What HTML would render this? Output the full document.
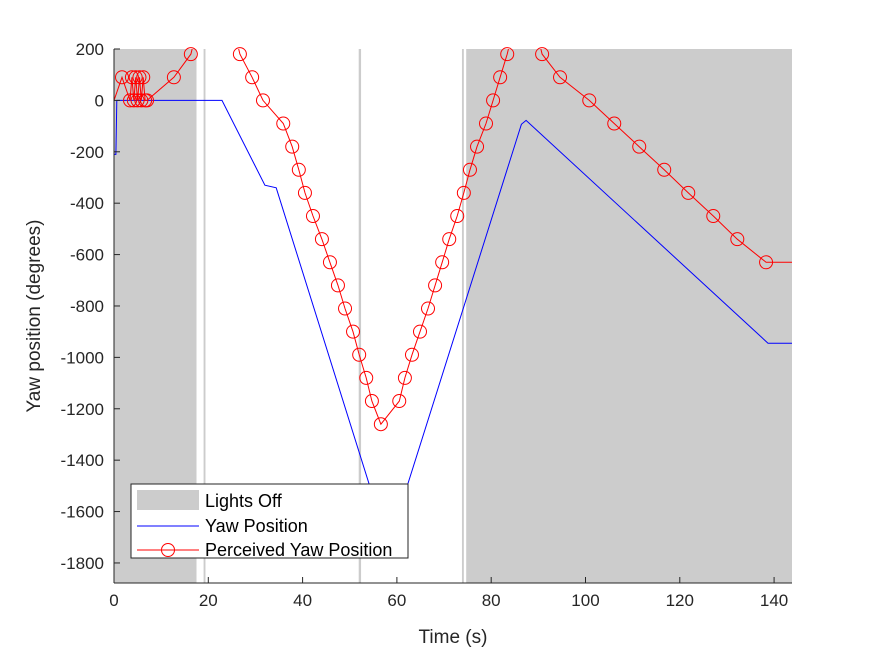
<!DOCTYPE html>
<html><head><meta charset="utf-8"><style>
body{margin:0;background:#fff;}
svg{display:block;font-family:"Liberation Sans",Arial,sans-serif;}
</style></head><body>
<svg id="chart" width="875" height="656" viewBox="0 0 875 656" xmlns="http://www.w3.org/2000/svg">
<g id="shade"></g>
<g id="lines"></g>
<g id="axes"></g>
<text x="453" y="643" font-size="19" text-anchor="middle" fill="#262626">Time (s)</text>
<text transform="translate(40,316) rotate(-90)" font-size="19" text-anchor="middle" fill="#262626">Yaw position (degrees)</text>
<g>
<rect x="131" y="484" width="277" height="74" fill="#fff" stroke="#262626" stroke-width="1"/>
<rect x="137" y="490" width="62" height="20" fill="#cccccc"/>
<text x="205" y="507" font-size="18" fill="#000">Lights Off</text>
<line x1="137" y1="526" x2="199" y2="526" stroke="#0000ff" stroke-width="1"/>
<text x="205" y="532" font-size="18" fill="#000">Yaw Position</text>
<line x1="137" y1="550" x2="199" y2="550" stroke="#ff0000" stroke-width="1"/>
<circle cx="168" cy="550" r="6.5" fill="none" stroke="#ff0000"/>
<text x="205" y="556" font-size="18" fill="#000">Perceived Yaw Position</text>
</g>
</svg>
<script>
const xTicks=[0,20,40,60,80,100,120,140];
const yTicks=[200,0,-200,-400,-600,-800,-1000,-1200,-1400,-1600,-1800];
const shadeStart=[0,19.0,51.9,73.8,74.7];
const shadeEnd=[17.5,19.4,52.4,74.2,144];
const yawT=[0,0.4,0.6,22.9,32.0,34.4,58.2,86.4,87.4,138.7,144];
const yawV=[-210,-210,0,0,-330,-340,-1732,-93,-78,-945,-945];
const perT=[0,1.7,3.4,3.8,4.2,4.6,5.0,5.4,5.8,6.2,6.6,7.0,12.7,16.3,null,
26.7,29.3,31.6,35.9,37.8,39.2,40.5,42.2,44.1,45.8,47.5,49.0,50.7,52.0,53.5,54.7,56.6,
60.5,61.7,63.2,64.9,66.6,68.1,69.6,71.1,72.8,74.2,75.5,77.0,78.9,80.4,81.9,83.4,null,
90.8,94.6,100.8,106.1,111.4,116.7,121.8,127.1,132.2,138.3,144];
const perV=[0,90,0,90,0,90,0,90,0,90,0,0,90,180,null,
180,90,0,-90,-180,-270,-360,-450,-540,-630,-720,-810,-900,-990,-1080,-1170,-1260,
-1170,-1080,-990,-900,-810,-720,-630,-540,-450,-360,-270,-180,-90,0,90,180,null,
180,90,0,-90,-180,-270,-360,-450,-540,-630,-630];
const perMarker=[0,1,1,1,1,1,1,1,1,1,1,1,1,1,0,
1,1,1,1,1,1,1,1,1,1,1,1,1,1,1,1,1,
1,1,1,1,1,1,1,1,1,1,1,1,1,1,1,1,0,
1,1,1,1,1,1,1,1,1,1,0];
const X0=114,X1=792,Y0=49,Y1=583,XMIN=0,XMAX=143.8,YMAX=200,YMIN=-1878;
const sx=t=>X0+(t-XMIN)/(XMAX-XMIN)*(X1-X0);
const sy=v=>Y0+(YMAX-v)/(YMAX-YMIN)*(Y1-Y0);
const NS='http://www.w3.org/2000/svg';
function mk(tag,attrs,parent){const e=document.createElementNS(NS,tag);for(const k in attrs)e.setAttribute(k,attrs[k]);parent.appendChild(e);return e;}
const shade=document.getElementById('shade');
for(let i=0;i<shadeStart.length;i++){
  const r=mk('rect',{x:sx(shadeStart[i]),y:Y0,width:Math.min(X1,sx(shadeEnd[i]))-sx(shadeStart[i]),height:Y1-Y0,fill:'#cccccc'},shade);
  
  
}
const lines=document.getElementById('lines');
const clip=mk('clipPath',{id:'pc'},mk('defs',{},lines));
mk('rect',{x:X0,y:Y0,width:X1-X0,height:Y1-Y0},clip);
let d='';
yawT.forEach((t,i)=>{d+=(i?'L':'M')+sx(t).toFixed(1)+' '+sy(yawV[i]).toFixed(1);});
const yl=mk('path',{d:d,fill:'none',stroke:'#0000ff','stroke-width':1,'clip-path':'url(#pc)'},lines);


let d2='',pen=false,prev=null;
for(let i=0;i<perT.length;i++){
  if(perT[i]===null){
    if(prev!==null){d2+='L'+(sx(perT[prev])+6).toFixed(1)+' '+(Y0-20);}
    pen=false;continue;
  }
  const p=sx(perT[i]).toFixed(1)+' '+sy(perV[i]).toFixed(1);
  if(!pen && i>0 && perT[i-1]===null){d2+='M'+(sx(perT[i])-6).toFixed(1)+' '+(Y0-20)+'L'+p;}
  else d2+=(pen?'L':'M')+p;
  pen=true;prev=i;
}
const pl=mk('path',{d:d2,fill:'none',stroke:'#ff0000','stroke-width':1,'clip-path':'url(#pc)'},lines);


for(let i=0;i<perT.length;i++){
  if(perT[i]===null||!perMarker[i])continue;
  const c=mk('circle',{cx:sx(perT[i]),cy:sy(perV[i]),r:6.5,fill:'none',stroke:'#ff0000','stroke-width':1},lines);
  
  
}
const ax=document.getElementById('axes');
mk('line',{x1:X0,y1:Y1,x2:X1,y2:Y1,stroke:'#262626'},ax);
mk('line',{x1:X0,y1:Y0,x2:X0,y2:Y1,stroke:'#262626'},ax);
xTicks.forEach(t=>{
  const x=sx(t);
  mk('line',{x1:x,y1:Y1,x2:x,y2:Y1-6,stroke:'#262626'},ax);
  const tx=mk('text',{x:x,y:Y1+23,'font-size':17,'text-anchor':'middle',fill:'#262626'},ax);
  tx.textContent=t;
  
  
});
yTicks.forEach(v=>{
  const y=sy(v);
  mk('line',{x1:X0,y1:y,x2:X0+6,y2:y,stroke:'#262626'},ax);
  const tx=mk('text',{x:X0-10,y:y+6,'font-size':17,'text-anchor':'end',fill:'#262626'},ax);
  tx.textContent=v;
  
  
});
</script>
</body></html>
